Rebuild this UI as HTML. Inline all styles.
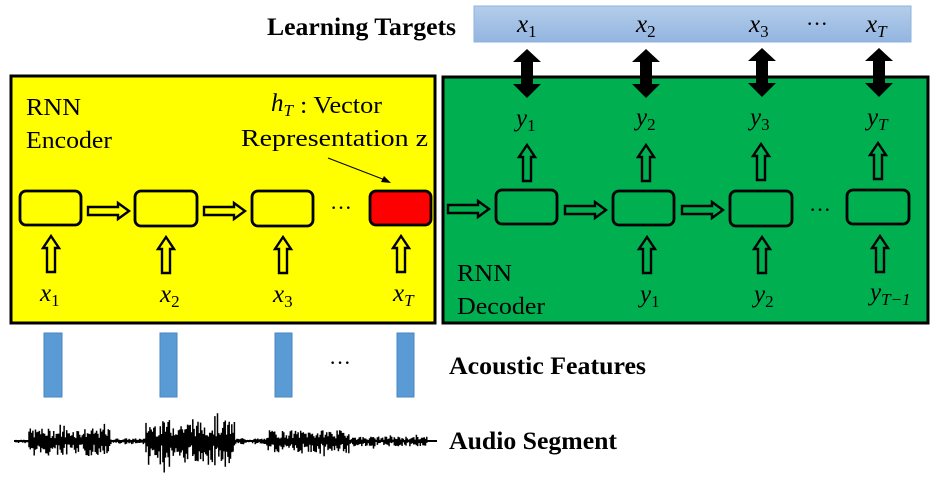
<!DOCTYPE html>
<html><head><meta charset="utf-8"><style>
html,body{margin:0;padding:0;background:#fff;}
svg{display:block}
.t{font-family:"Liberation Serif",serif;}
.m{font-family:"Liberation Serif",serif;font-style:italic;}
</style></head><body>
<svg id="s" width="939" height="482" viewBox="0 0 939 482" xmlns="http://www.w3.org/2000/svg">
<defs>
<linearGradient id="g" x1="0" y1="0" x2="0" y2="1"><stop offset="0" stop-color="#b4cdea"/><stop offset="1" stop-color="#93b5e0"/></linearGradient>
<g id="ha"><polygon points="0,-4 30,-4 30,-8 41,0 30,8 30,4 0,4" fill="none" stroke="#000" stroke-width="2.4"/></g>
<g id="ua"><polygon points="-4,0 -4,-24 -8,-24 0,-36 8,-24 4,-24 4,0" fill="none" stroke="#000" stroke-width="2.4"/></g>
<g id="da"><polygon points="-6,-22 -6,-44 -14,-44 0,-57 14,-44 6,-44 6,-22 14,-22 0,-8 -14,-22" fill="#000"/></g>
</defs>
<text x="267" y="35" class="t" font-size="25" font-weight="bold" textLength="189" lengthAdjust="spacingAndGlyphs">Learning Targets</text>
<rect x="474" y="6" width="437" height="36" fill="url(#g)" stroke="#8fb3df" stroke-width="1"/>
<rect x="11" y="76" width="424" height="247" fill="#ffff00" stroke="#000" stroke-width="3"/>
<rect x="443" y="77" width="485" height="246" fill="#00b050" stroke="#000" stroke-width="3"/>
<g fill="#000">
<use href="#da" x="527" y="106"/><use href="#da" x="646" y="106"/><use href="#da" x="762" y="105"/><use href="#da" x="879" y="105"/>
</g>
<g class="m" font-size="25">
<text x="517" y="32">x<tspan font-size="17" dy="5" font-style="normal">1</tspan></text>
<text x="636" y="32">x<tspan font-size="17" dy="5" font-style="normal">2</tspan></text>
<text x="749" y="32">x<tspan font-size="17" dy="5" font-style="normal">3</tspan></text>
<text x="866" y="32">x<tspan font-size="17" dy="5">T</tspan></text>
<text x="516" y="126">y<tspan font-size="17" dy="5" font-style="normal">1</tspan></text>
<text x="636" y="125">y<tspan font-size="17" dy="5" font-style="normal">2</tspan></text>
<text x="750" y="125">y<tspan font-size="17" dy="5" font-style="normal">3</tspan></text>
<text x="867" y="125">y<tspan font-size="17" dy="5">T</tspan></text>
<text x="640" y="302">y<tspan font-size="17" dy="5" font-style="normal">1</tspan></text>
<text x="754" y="302">y<tspan font-size="17" dy="5" font-style="normal">2</tspan></text>
<text x="870" y="300">y<tspan font-size="17" dy="5">T−1</tspan></text>
<text x="40" y="301">x<tspan font-size="17" dy="5" font-style="normal">1</tspan></text>
<text x="160" y="302">x<tspan font-size="17" dy="5" font-style="normal">2</tspan></text>
<text x="273" y="302">x<tspan font-size="17" dy="5" font-style="normal">3</tspan></text>
<text x="393" y="301">x<tspan font-size="17" dy="5">T</tspan></text>
<text x="271" y="111">h<tspan font-size="17" dy="5">T</tspan></text>
</g>
<text x="806" y="31" class="t" font-size="22">···</text>
<text x="330" y="215" class="t" font-size="22">···</text>
<text x="809" y="217" class="t" font-size="22">···</text>
<text x="329" y="370" class="t" font-size="22">···</text>
<g class="t" font-size="24">
<text x="26" y="115" textLength="55" lengthAdjust="spacingAndGlyphs">RNN</text><text x="26" y="148" textLength="86" lengthAdjust="spacingAndGlyphs">Encoder</text>
<text x="300" y="113" textLength="82" lengthAdjust="spacingAndGlyphs">: Vector</text><text x="241" y="146" textLength="187" lengthAdjust="spacingAndGlyphs">Representation z</text>
<text x="457" y="281" textLength="55" lengthAdjust="spacingAndGlyphs">RNN</text><text x="457" y="314" textLength="88" lengthAdjust="spacingAndGlyphs">Decoder</text>
</g>
<line x1="328" y1="158" x2="385" y2="180" stroke="#000" stroke-width="1"/>
<polygon points="391,183 381,182 384,176" fill="#000"/>
<g fill="none" stroke="#000" stroke-width="2.8">
<rect x="20" y="191" width="61" height="34" rx="6"/>
<rect x="135" y="191" width="62" height="35" rx="6"/>
<rect x="252" y="191" width="61" height="35" rx="6"/>
<rect x="370" y="191" width="61" height="34" rx="6" fill="#ff0000"/>
<rect x="496" y="190" width="61" height="34" rx="6"/>
<rect x="613" y="191" width="61" height="34" rx="6"/>
<rect x="730" y="191" width="62" height="35" rx="6"/>
<rect x="847" y="190" width="62" height="34" rx="6"/>
</g>
<use href="#ha" x="88" y="211"/><use href="#ha" x="204" y="211"/>
<use href="#ha" x="448" y="209"/><use href="#ha" x="565" y="210"/><use href="#ha" x="682" y="210"/>
<use href="#ua" x="51" y="272"/><use href="#ua" x="166" y="273"/><use href="#ua" x="283" y="273"/><use href="#ua" x="401" y="272"/>
<use href="#ua" x="527" y="181"/><use href="#ua" x="646" y="181"/><use href="#ua" x="761" y="180"/><use href="#ua" x="878" y="179"/>
<use href="#ua" x="647" y="273"/><use href="#ua" x="762" y="273"/><use href="#ua" x="880" y="272"/>
<g fill="#5b9bd5" stroke="#4a86c0" stroke-width="1">
<rect x="44" y="333" width="18" height="64"/><rect x="160" y="333" width="17" height="64"/>
<rect x="275" y="333" width="17" height="64"/><rect x="397" y="333" width="17" height="64"/>
</g>
<text x="449" y="374" class="t" font-size="25" font-weight="bold" textLength="197" lengthAdjust="spacingAndGlyphs">Acoustic Features</text>
<text x="449" y="449" class="t" font-size="25" font-weight="bold" textLength="168" lengthAdjust="spacingAndGlyphs">Audio Segment</text>
<line x1="14" y1="441" x2="437" y2="441" stroke="#000" stroke-width="2"/>
<path id="w" d="" stroke="#000" stroke-width="1.5" fill="none"/>
</svg>
<script>
(function(){var s=7,d="";function r(){s=(s*9301+49297)%233280;return s/233280;}
function env(x){if(x<28)return 2;if(x<110)return 14;if(x<145)return 3;if(x<235)return 22;if(x<268)return 3;if(x<350)return 12;if(x<428)return 5;return 1;}
for(var x=16;x<430;x+=1.3){var a=env(x);var u=a*(0.2+r()*0.7),l=a*(0.2+r()*0.9);if(r()<0.05){u*=1.4;l*=1.4;}d+="M"+x.toFixed(1)+" "+(441-u).toFixed(1)+"V"+(441+l).toFixed(1);}
document.getElementById("w").setAttribute("d",d);})();
</script>
</body></html>
